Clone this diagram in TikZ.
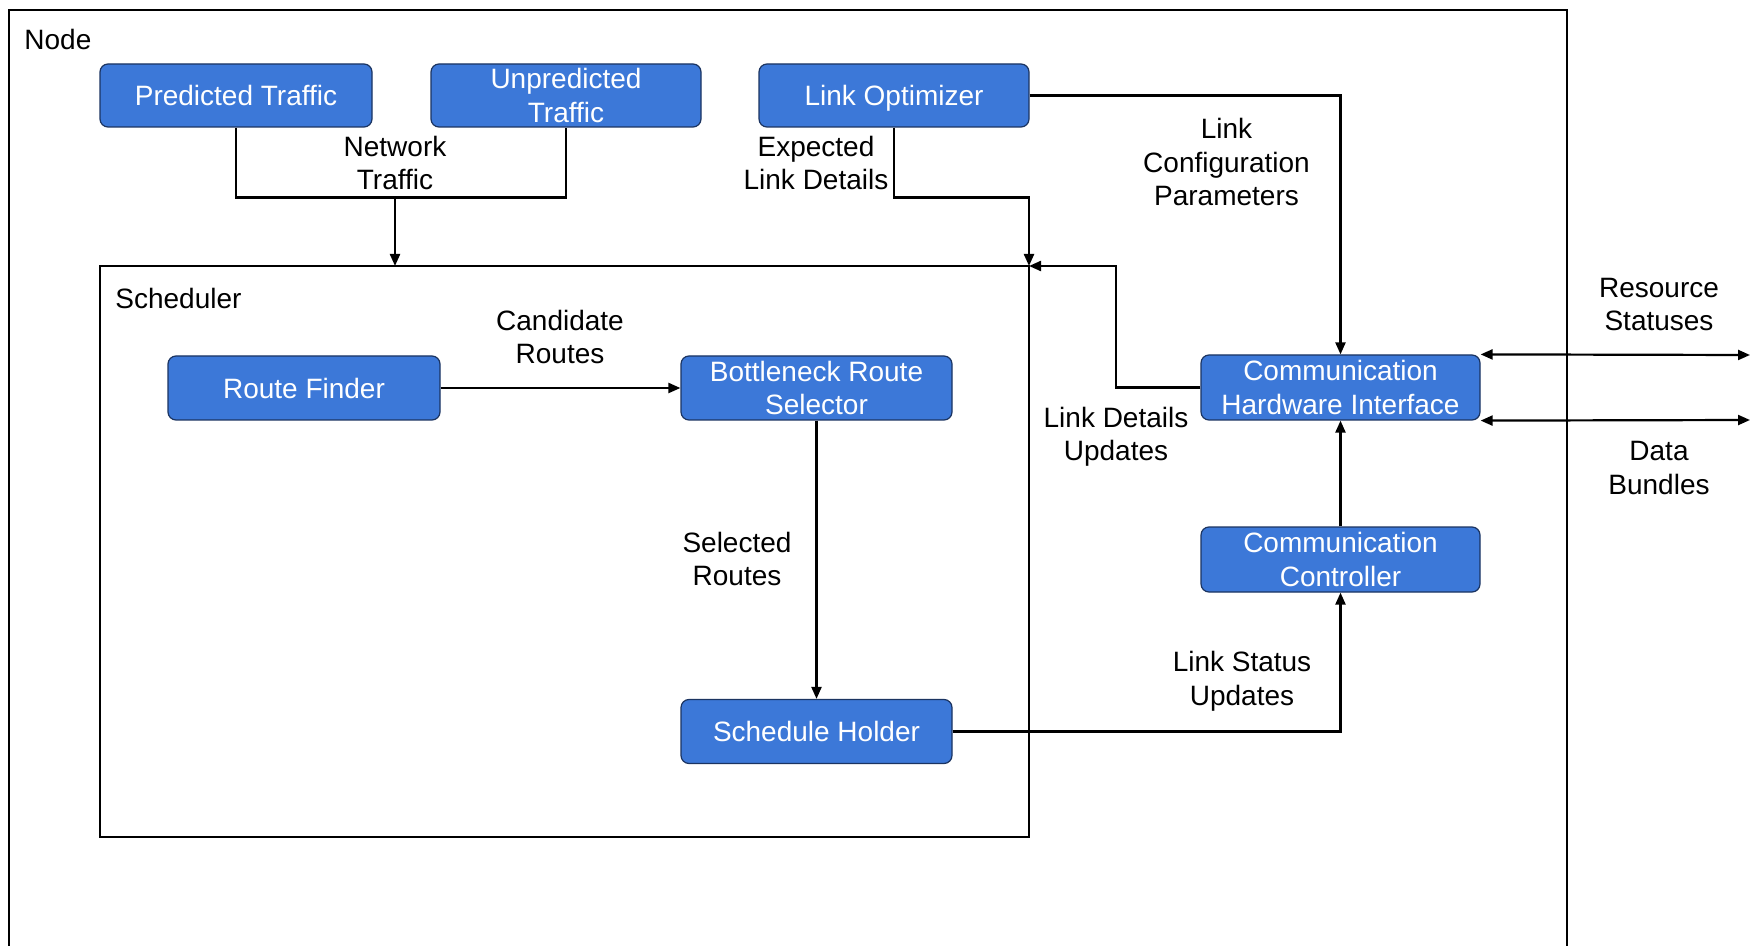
\documentclass[tikz,border=0pt]{standalone}
\usepackage{fontspec}
\setmainfont{Liberation Sans}
\usetikzlibrary{arrows.meta}
\definecolor{boxblue}{HTML}{3C78D8}
\definecolor{boxedge}{HTML}{1B3461}
\begin{document}
\begin{tikzpicture}[x=0.5pt,y=-0.5pt,
  txt/.style={font=\fontsize{14}{16.75}\selectfont, align=center, inner sep=0pt},
  blk/.style={txt, rectangle, rounded corners=4pt, fill=boxblue, draw=boxedge, line width=0.6pt, text=white, minimum width=#1},
  blk/.default=136pt,
  frame/.style={draw=black, line width=1.4pt, rectangle, inner sep=0pt, outer sep=0pt},
  conn/.style={draw=black, line width=1.1pt},
  arr/.style={conn, -{Triangle[length=6pt,width=5pt]}},
  dbl/.style={conn, {Triangle[length=6pt,width=5pt]}-{Triangle[length=6pt,width=5pt]}}
]
\useasboundingbox (0,0) rectangle (1750,946);
\fill[white] (0,0) rectangle (1750,946);

% outer Node frame (bottom edge beyond the picture)
\coordinate (nfbl) at (9,946);
\coordinate (nftl) at (9,10);
\coordinate (nftr) at (1567,10);
\coordinate (nfbr) at (1567,946);
\draw[line width=1.4pt] (nfbl) -- (nftl) -- (nftr) -- (nfbr);
\node[txt, anchor=west] (nodelbl) at (24,39) {Node};

% Scheduler frame
\node[frame, minimum width=464.5pt, minimum height=285.5pt] (sched) at (564.5,551.5) {};
\node[txt, anchor=west] (schedlbl) at (115,298) {Scheduler};

% boxes
\node[blk, minimum height=31.5pt] (pt) at (236,95.5) {Predicted Traffic};
\node[blk=135pt, minimum height=31.5pt] (ut) at (566,95.5) {Unpredicted\\Traffic};
\node[blk=135pt, minimum height=31.5pt, text height=10.2pt, text depth=0pt] (lo) at (894,95.5) {Link Optimizer};
\node[blk, minimum height=32pt] (rf) at (304,388) {Route Finder};
\node[blk=135.5pt, minimum height=32pt] (brs) at (816.5,388) {Bottleneck Route\\Selector};
\node[blk=135.5pt, minimum height=32pt] (sh) at (816.5,731.5) {Schedule Holder};
\node[blk=139.5pt, minimum height=32.5pt] (chi) at (1340.5,387.5) {Communication\\Hardware Interface};
\node[blk=139.5pt, minimum height=32.5pt] (cc) at (1340.5,559.5) {Communication\\Controller};

% connectors
\coordinate (ntj) at (395,197.5);
\draw[conn] (pt.south) |- (ntj) -| (ut.south);
\draw[arr] (ntj) -- (ntj |- sched.north);

\draw[arr] (lo.south) |- (sched.north east |- ntj) -- (sched.north east);
\draw[arr] (lo.east) -| (chi.north);

\coordinate (ldu) at (1116,266);
\draw[arr] (chi.west) -| (ldu) -- (sched.north east);

\draw[arr] (rf.east) -- (brs.west);
\draw[arr] (brs.south) -- (sh.north);
\draw[arr] (sh.east) -| (cc.south);
\draw[arr] (cc.north) -- (chi.south);

\coordinate (rsend) at (1750,355);
\coordinate (dbend) at (1750,420);
\draw[dbl] (chi.north east) -- (rsend);
\draw[dbl] (chi.south east) -- (dbend);

% labels
\node[txt] (lnt) at (395,163) {Network\\Traffic};
\node[txt] (leld) at (816,163) {Expected\\Link Details};
\node[txt] (llcp) at (1226.5,162) {Link\\Configuration\\Parameters};
\node[txt] (lrs) at (1659,304.5) {Resource\\Statuses};
\node[txt] (ldb) at (1659,468) {Data\\Bundles};
\node[txt] (lcr) at (560,337) {Candidate\\Routes};
\node[txt] (lsr) at (737,559) {Selected\\Routes};
\node[txt] (lldu) at (1116,437) {Link Details\\Updates};
\node[txt] (llsu) at (1242,681.5) {Link Status\\Updates};
\end{tikzpicture}
\end{document}
